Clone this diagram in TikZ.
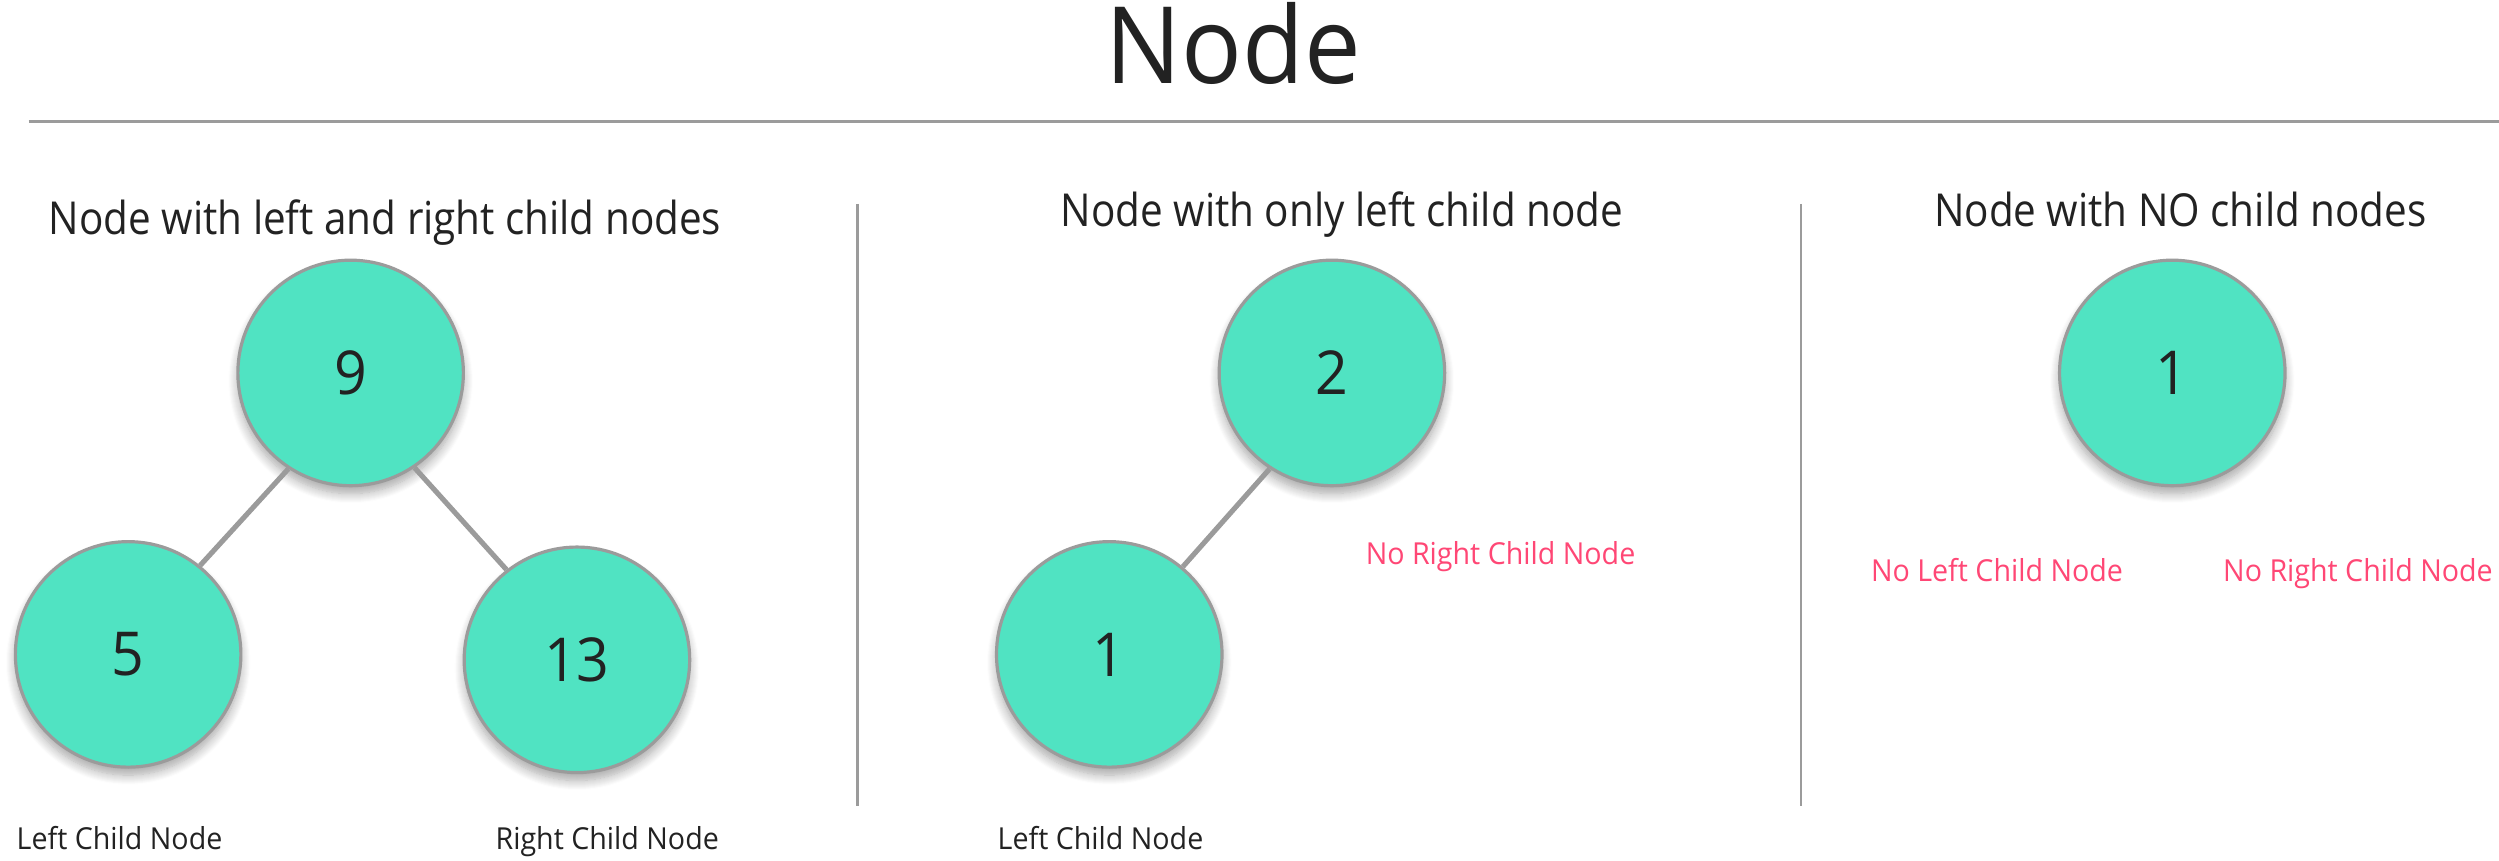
\documentclass[tikz,border=0pt]{standalone}
\usepackage{fontspec}
\setmainfont{Open Sans}
\newfontfamily\titlefont[FakeStretch=0.89]{Open Sans}
\newfontfamily\labelfont[FakeStretch=0.945]{Open Sans}
\usetikzlibrary{shadows.blur}
\definecolor{teal}{HTML}{50E3C2}
\definecolor{edgegray}{HTML}{9B9B9B}
\definecolor{pinktext}{HTML}{FF4775}
\definecolor{darktext}{HTML}{222222}
\begin{document}
\begin{tikzpicture}[x=1pt,y=-1pt,
  treenode/.style={circle, minimum size=141.5pt, inner sep=0pt, fill=teal, draw=edgegray, line width=2pt,
    blur shadow={shadow xshift=0pt, shadow yshift=-5pt, shadow blur radius=6pt, shadow blur steps=10, shadow opacity=35},
    font=\labelfont\fontsize{38}{40}\selectfont, text=darktext},
  edge/.style={draw=edgegray, line width=3.2pt},
  rule/.style={draw=edgegray, line width=1.8pt},
  sectitle/.style={anchor=base, font=\titlefont\fontsize{28.5}{30}\selectfont, text=darktext, inner sep=0pt},
  smalllabel/.style={anchor=base, font=\labelfont\fontsize{19}{21}\selectfont, text=darktext, inner sep=0pt},
  pinklabel/.style={anchor=base, font=\labelfont\fontsize{19}{21}\selectfont, text=pinktext, inner sep=0pt}]
\useasboundingbox (0,0) rectangle (1568,540.2);
% title
\node[anchor=base, font=\labelfont\fontsize{67}{70}\selectfont, text=darktext, inner sep=0pt] (title) at (773.8,52.3) {Node};
\coordinate (ruleL) at (18,76.3);
\coordinate (ruleR) at (1568,76.3);
\draw[rule] (ruleL) -- (ruleR);
% separators
\coordinate (s1t) at (538,128);
\coordinate (s1b) at (538,506);
\coordinate (s2t) at (1130,128);
\coordinate (s2b) at (1130,506);
\draw[rule] (s1t) -- (s1b);
\draw[rule] (s2t) -- (s2b);
% section titles
\node[sectitle] (t1) at (241.6,147) {Node with left and right child nodes};
\node[sectitle] (t2) at (842,142) {Node with only left child node};
\node[sectitle] (t3) at (1368,142) {Node with NO child nodes};
% panel 1
\node[treenode] (n9) at (220,234) {9};
\node[treenode] (n5) at (80.4,410.6) {5};
\node[treenode] (n13) at (362,414) {13};
\draw[edge] (n9.237) -- (n5.51);
\draw[edge] (n9.304) -- (n13.128);
\node[smalllabel] (l5) at (75,533) {Left Child Node};
\node[smalllabel] (l13) at (381,533) {Right Child Node};
% panel 2
\node[treenode] (n2) at (835.7,234) {2};
\node[treenode] (n1a) at (696,410.6) {1};
\draw[edge] (n2.237.5) -- (n1a.50.5);
\node[smalllabel] (l1a) at (690.5,533) {Left Child Node};
\node[pinklabel] (nr2) at (941.5,354) {No Right Child Node};
% panel 3
\node[treenode] (n1b) at (1363,234) {1};
\node[pinklabel] (nl3) at (1253,365) {No Left Child Node};
\node[pinklabel] (nr3) at (1479.5,365) {No Right Child Node};
\end{tikzpicture}
\end{document}
